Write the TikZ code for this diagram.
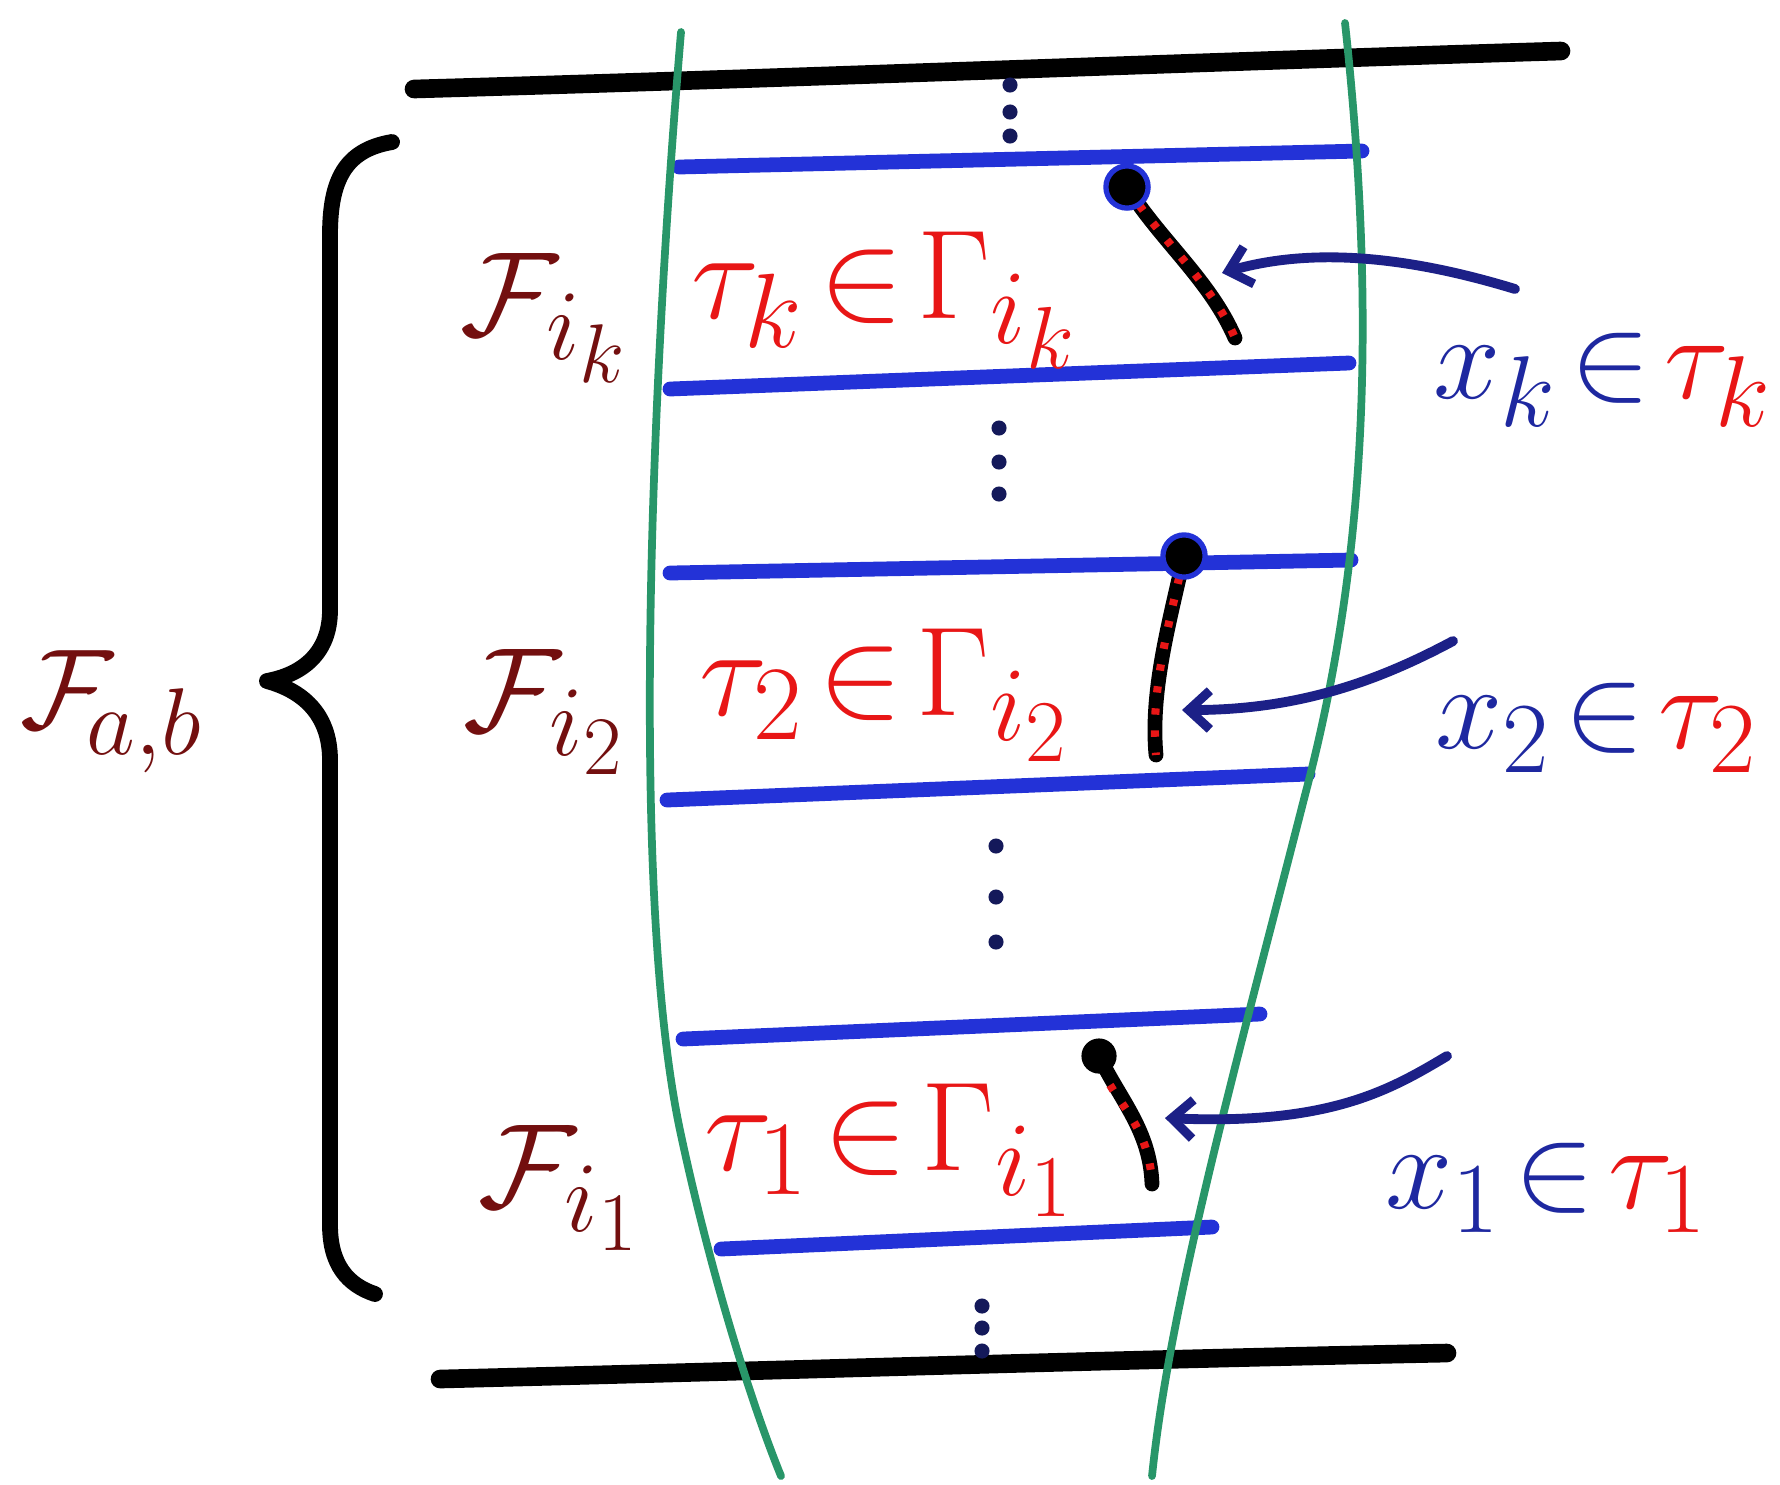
\documentclass[tikz,border=0pt]{standalone}
\usepackage{graphicx}
\usetikzlibrary{arrows.meta}
\definecolor{lineblue}{RGB}{35,50,215}
\definecolor{arrowblue}{RGB}{28,32,135}
\definecolor{xblue}{RGB}{30,40,160}
\definecolor{tred}{RGB}{232,22,22}
\definecolor{fred}{RGB}{115,15,15}
\definecolor{sgreen}{RGB}{40,150,105}
\definecolor{dotcol}{RGB}{20,25,90}
\newcommand{\hsz}[2]{\scalebox{#1}{\Huge $#2$}}
\begin{document}
\begin{tikzpicture}[x=0.01cm,y=-0.01cm,
  blackbar/.style={line width=5.3pt,line cap=round,black},
  greenline/.style={line width=2.2pt,sgreen,line cap=round},
  bluebar/.style={line width=4.2pt,lineblue,line cap=round},
  vdot/.style={circle,fill=dotcol,inner sep=0pt,minimum size=4.3pt},
  pathblack/.style={line width=4.2pt,black,line cap=round},
  pathred/.style={line width=2.3pt,tred,dash pattern=on 1.8pt off 4.5pt},
  bigdot/.style={circle,fill=black,draw=lineblue,line width=1.5pt,inner sep=0pt,minimum size=12pt},
  blackdot/.style={circle,fill=black,inner sep=0pt,minimum size=10pt},
  pointer/.style={line width=2.8pt,arrowblue,line cap=round,-{Straight Barb[length=6pt,width=11pt,line width=2.6pt]}},
  flab/.style={text=fred,inner sep=0pt},
  tlab/.style={text=tred,inner sep=0pt},
  xlab/.style={inner sep=0pt}]
\useasboundingbox (0,0) rectangle (1780,1484);

% black horizontal bounds
\coordinate (topL) at (414,89);
\coordinate (topR) at (1561,51);
\coordinate (botL) at (440,1379);
\coordinate (botR) at (1447,1353);
\draw[blackbar] (topL) .. controls (800,78) and (1200,62) .. (topR);
\draw[blackbar] (botL) .. controls (800,1370) and (1100,1360) .. (botR);

% blue bars
\coordinate (b1L) at (679,167);  \coordinate (b1R) at (1362,151);
\coordinate (b2L) at (670,389);  \coordinate (b2R) at (1349,363);
\coordinate (b3L) at (670,573);  \coordinate (b3R) at (1351,560);
\coordinate (b4L) at (667,800);  \coordinate (b4R) at (1308,774);
\coordinate (b5L) at (683,1039); \coordinate (b5R) at (1260,1014);
\coordinate (b6L) at (721,1249); \coordinate (b6R) at (1212,1227);
\draw[bluebar] (b1L) -- (b1R);
\draw[bluebar] (b2L) -- (b2R);
\draw[bluebar] (b3L) -- (b3R);
\draw[bluebar] (b4L) -- (b4R);
\draw[bluebar] (b5L) -- (b5R);
\draw[bluebar] (b6L) -- (b6R);

% green curves
\coordinate (gLt) at (681,32);
\coordinate (gLb) at (781,1476);
\coordinate (gRt) at (1345,23);
\coordinate (gRb) at (1152,1476);
\draw[greenline] (gLt) .. controls (650,400) and (630,900) .. (681,1135) .. controls (710,1270) and (750,1400) .. (gLb);
\draw[greenline] (gRt) .. controls (1375,300) and (1370,550) .. (1305,795) .. controls (1240,1050) and (1170,1300) .. (gRb);

% vertical dots
\node[vdot] (d1a) at (1010,85) {};  \node[vdot] (d1b) at (1010,112) {}; \node[vdot] (d1c) at (1010,136) {};
\node[vdot] (d2a) at (999,428) {};  \node[vdot] (d2b) at (999,462) {};  \node[vdot] (d2c) at (999,494) {};
\node[vdot] (d3a) at (996,846) {};  \node[vdot] (d3b) at (996,897) {};  \node[vdot] (d3c) at (996,942) {};
\node[vdot] (d4a) at (982,1306) {}; \node[vdot] (d4b) at (982,1328) {}; \node[vdot] (d4c) at (982,1351) {};

% brace
\draw[line width=4.5pt,line cap=round,line join=round] (392,142) .. controls (345,150) and (330,180) .. (330,235) -- (330,610)
  .. controls (330,655) and (300,675) .. (267,681) .. controls (300,690) and (330,712) .. (330,760) -- (330,1225)
  .. controls (330,1265) and (348,1285) .. (375,1294);

% paths tau
\coordinate (pkS) at (1127,187); \coordinate (pkE) at (1235,338);
\coordinate (p2S) at (1184,556); \coordinate (p2E) at (1156,755);
\coordinate (p1S) at (1099,1056); \coordinate (p1E) at (1152,1184);
\draw[pathblack] (pkS) .. controls (1160,240) and (1210,280) .. (pkE);
\draw[pathred] (pkS) .. controls (1160,240) and (1210,280) .. (pkE);
\draw[pathblack] (p2S) .. controls (1170,620) and (1150,690) .. (p2E);
\draw[pathred] (p2S) .. controls (1170,620) and (1150,690) .. (p2E);
\draw[pathblack] (p1S) .. controls (1120,1100) and (1150,1130) .. (p1E);
\draw[pathred] (1110,1085) .. controls (1125,1110) and (1150,1135) .. (p1E);
\node[bigdot] (ek) at (pkS) {};
\node[bigdot] (e2) at (p2S) {};
\node[blackdot] (e1) at (p1S) {};

% labels
\node[flab] (Fk) at (545,318) {\hsz{1.37}{\mathcal{F}_{i_k}}};
\node[flab] (F2) at (545,712) {\hsz{1.37}{\mathcal{F}_{i_2}}};
\node[flab] (F1) at (560,1188) {\hsz{1.37}{\mathcal{F}_{i_1}}};
\node[flab] (Fab) at (112,712) {\hsz{1.3}{\mathcal{F}_{\!a,b}}};

\node[tlab] (tk) at (885,300) {\hsz{1.45}{\tau_k\!\in\!\Gamma_{i_k}}};
\node[tlab] (t2) at (885,695) {\hsz{1.45}{\tau_2\!\in\!\Gamma_{i_2}}};
\node[tlab] (t1) at (890,1150) {\hsz{1.45}{\tau_1\!\in\!\Gamma_{i_1}}};

\node[xlab] (xk) at (1603,380) {\hsz{1.38}{\color{xblue}x_k\!\in\!\color{tred}\tau_k}};
\node[xlab] (x2) at (1597,728) {\hsz{1.38}{\color{xblue}x_2\!\in\!\color{tred}\tau_2}};
\node[xlab] (x1) at (1547,1188) {\hsz{1.38}{\color{xblue}x_1\!\in\!\color{tred}\tau_1}};

% pointers
\coordinate (akS) at (1515,289); \coordinate (akE) at (1222,273);
\coordinate (a2S) at (1453,641); \coordinate (a2E) at (1182,710);
\coordinate (a1S) at (1447,1056); \coordinate (a1E) at (1165,1118);
\draw[pointer] (akS) .. controls (1420,260) and (1320,245) .. (akE);
\draw[pointer] (a2S) .. controls (1380,680) and (1300,710) .. (a2E);
\draw[pointer] (a1S) .. controls (1390,1090) and (1330,1125) .. (a1E);
\end{tikzpicture}
\end{document}
